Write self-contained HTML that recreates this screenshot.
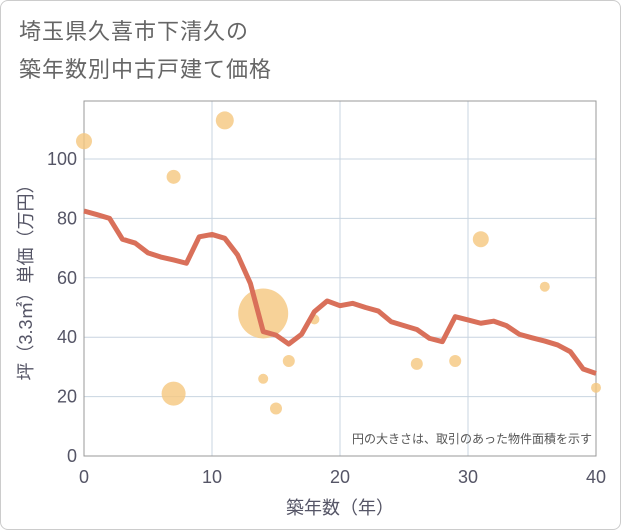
<!DOCTYPE html>
<html><head><meta charset="utf-8"><style>
body{margin:0;background:#fff;}
#wrap{position:relative;width:619px;height:528px;border:1px solid #ccc;border-radius:8px;overflow:hidden;background:#fff;font-family:"Liberation Sans","Noto Sans CJK JP",sans-serif;}
#title{position:absolute;left:18px;top:12px;font-size:22px;line-height:38px;color:#666;letter-spacing:1px;}
</style></head><body>
<div id="wrap">
<div id="title">埼玉県久喜市下清久の<br>築年数別中古戸建て価格</div>
<svg id="chart" width="621" height="530" style="position:absolute;left:-1px;top:-1px"></svg>
</div>
<script>
const years=[0,1,2,3,4,5,6,7,8,9,10,11,12,13,14,15,16,17,18,19,20,21,22,23,24,25,26,27,28,29,30,31,32,33,34,35,36,37,38,39,40];
const avgPrice=[82.5,81.3,80,73,71.7,68.4,67,66,64.9,73.8,74.6,73.3,67.7,58.1,41.9,40.7,37.7,41,48.6,52.2,50.6,51.4,50,48.8,45.2,43.9,42.6,39.6,38.5,46.9,45.8,44.7,45.4,43.9,41,39.8,38.7,37.4,35.1,29.3,27.8];
const bubbleAge=[0,7,11,14,7,14,15,16,18,26,29,31,36,40];
const bubblePrice=[106,94,113,48,21,26,16,32,46,31,32,73,57,23];
const bubbleRadius=[8,7,9,25,12,5,6,6,5,6,6,8,5,5];
const xTicks=[0,10,20,30,40];
const yTicks=[0,20,40,60,80,100];
const NS="http://www.w3.org/2000/svg";
const svg=document.getElementById('chart');
const L=84,R=596,T=101,B=456;
const xs=v=>L+(v/40)*(R-L);
const ys=v=>B-v*2.97;
function mk(t,a,p){const e=document.createElementNS(NS,t);for(const k in a)e.setAttribute(k,a[k]);(p||svg).appendChild(e);return e;}
const grid=mk('g',{});


xTicks.forEach(t=>{
 const l=mk('line',{x1:xs(t),x2:xs(t),y1:T,y2:B,stroke:'#c8d4e0','stroke-width':1},grid);
 
 
 const tx=mk('text',{x:xs(t),y:483,'text-anchor':'middle','font-size':18,fill:'#556'});
 
 
 tx.textContent=t;
});
yTicks.forEach(t=>{
 const l=mk('line',{x1:L,x2:R,y1:ys(t),y2:ys(t),stroke:'#c8d4e0','stroke-width':1},grid);
 
 
 const tx=mk('text',{x:77,y:ys(t)+6,'text-anchor':'end','font-size':18,fill:'#556'});
 
 
 tx.textContent=t;
});
const frame=mk('rect',{x:L,y:T,width:R-L,height:B-T,fill:'none',stroke:'#999','stroke-width':1});


bubbleAge.forEach((a,i)=>{
 const c=mk('circle',{cx:xs(a),cy:ys(bubblePrice[i]),r:bubbleRadius[i],fill:'#f5c77e','fill-opacity':0.8});
 
 
});
const pl=mk('polyline',{points:years.map((y,i)=>xs(y)+','+ys(avgPrice[i])).join(' '),fill:'none',stroke:'#d9705a','stroke-width':5,'stroke-linejoin':'round'});


const note=mk('text',{x:592,y:443,'text-anchor':'end','font-size':12,fill:'#555'});


note.textContent='円の大きさは、取引のあった物件面積を示す';
const xt=mk('text',{x:340,y:514,'text-anchor':'middle','font-size':18,fill:'#556'});


xt.textContent='築年数（年）';
const yt=mk('text',{x:0,y:0,'text-anchor':'middle','font-size':18,fill:'#556',transform:'translate(32,278) rotate(-90)'});


yt.textContent='坪（3.3㎡）単価（万円）';
</script>
</body></html>
